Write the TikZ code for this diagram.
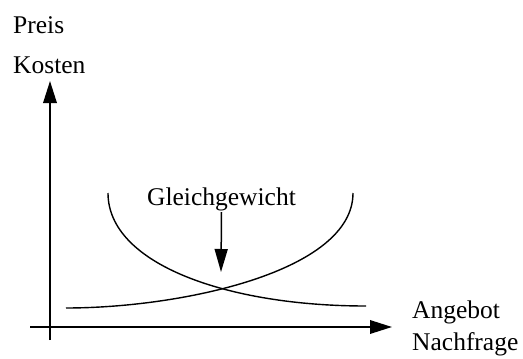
\documentclass[tikz,border=0pt]{standalone}
\usepackage{fontspec}
\setmainfont{Liberation Serif}
\usetikzlibrary{arrows.meta}

\tikzset{
  lbl/.style={inner sep=0pt, anchor=base west, font=\fontsize{25.5}{30}\selectfont},
  axis/.style={line width=1.8pt, -{Triangle[length=22pt,width=13.5pt]}},
  curve/.style={line width=1.4pt},
  pointer/.style={line width=1.5pt, -{Triangle[length=23pt,width=13pt]}}
}

\begin{document}
\begin{tikzpicture}[x=1pt, y=-1pt]
  \useasboundingbox (0,0) rectangle (523,359);

  % axis end points
  \coordinate (ybot) at (50,340);
  \coordinate (ytop) at (50,81);
  \coordinate (xleft) at (30,327);
  \coordinate (xright) at (392,327);

  % axes
  \draw[axis] (ybot) -- (ytop);
  \draw[axis] (xleft) -- (xright);

  % axis labels
  \node[lbl] (preis)  at (13,33)  {Preis};
  \node[lbl] (kosten) at (13,73)  {Kosten};
  \node[lbl] (angebot)   at (412,318) {Angebot};
  \node[lbl] (nachfrage) at (412,350) {Nachfrage};

  % falling and rising curves
  \coordinate (fstart) at (108,193);
  \coordinate (fend)   at (366,306);
  \coordinate (rstart) at (66,308);
  \coordinate (rend)   at (353,193);
  \draw[curve] (fstart) .. controls (108,264) and (227,306) .. (fend);
  \draw[curve] (rstart) .. controls (180,308) and (353,272) .. (rend);

  % equilibrium label and pointer
  \node[lbl, anchor=base] (gg) at (221.5,205) {Gleichgewicht};
  \coordinate (eq) at (221,272);
  \draw[pointer] (gg.south |- 0,212) -- (eq);
\end{tikzpicture}
\end{document}
